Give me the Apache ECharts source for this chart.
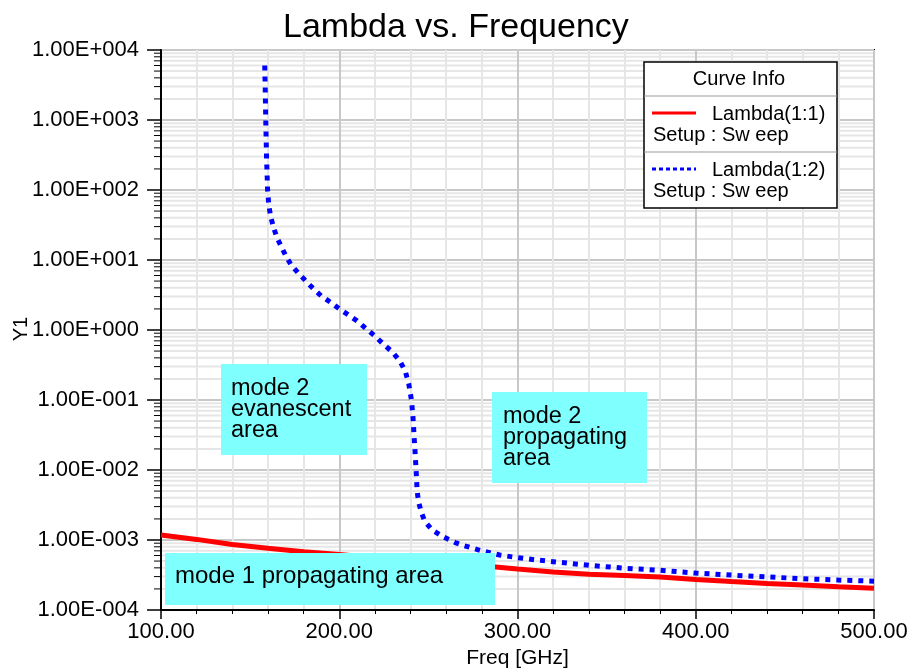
<!DOCTYPE html>
<html>
<head>
<meta charset="utf-8">
<script src="https://cdn.jsdelivr.net/npm/echarts@6/dist/echarts.min.js"></script>
<style>
  html, body { margin: 0; padding: 0; background: #fff; }
  #chart { width: 914px; height: 668px; }
</style>
</head>
<body>
<div id="chart"></div>
<script>
// Lambda(1:1) - mode 1
const freqRed = [100, 120, 140, 160, 180, 200, 220, 240, 260, 280, 300, 320, 340, 360, 380, 400, 420, 440, 460, 480, 500];
const lambdaRed = [1.18e-3, 1.02e-3, 8.6e-4, 7.6e-4, 6.8e-4, 6.2e-4, 5.6e-4, 5.1e-4, 4.7e-4, 4.3e-4, 3.85e-4,
  3.5e-4, 3.25e-4, 3.1e-4, 2.95e-4, 2.72e-4, 2.55e-4, 2.4e-4, 2.27e-4, 2.15e-4, 2.04e-4];

// Lambda(1:2) - mode 2
const freqBlue = [158.2, 158.5, 158.8, 159.2, 159.8, 160.5, 161.5, 163, 165, 167, 170, 173, 177, 181, 185, 190, 195,
  200, 205, 210, 215, 220, 225, 230, 234, 237, 239, 240.5, 241.3, 242, 242.6, 243.2, 243.7, 244.5, 246, 248, 252,
  258, 265, 270, 280, 290, 300, 310, 320, 340, 360, 380, 400, 420, 440, 460, 480, 500];
const lambdaBlue = [6000, 2500, 900, 300, 100, 60, 42, 30, 21, 16.5, 11.5, 8.5, 6.5, 5.1, 4.0, 3.05, 2.5,
  2.0, 1.65, 1.35, 1.05, 0.82, 0.62, 0.48, 0.36, 0.26, 0.17, 0.1, 0.06, 0.03, 0.017, 0.009, 0.005, 0.0035, 0.0025,
  0.00185, 0.0014, 0.00112, 9.2e-4, 8.3e-4, 7.0e-4, 6.1e-4, 5.6e-4, 5.2e-4, 4.9e-4, 4.35e-4, 3.95e-4, 3.7e-4,
  3.37e-4, 3.15e-4, 2.97e-4, 2.8e-4, 2.68e-4, 2.58e-4];

const seriesNames = ['Lambda(1:1)', 'Lambda(1:2)'];
const setupLabel = 'Setup : Sw eep';
const xTickLabels = ['100.00', '200.00', '300.00', '400.00', '500.00'];
const yTickLabels = ['1.00E-004', '1.00E-003', '1.00E-002', '1.00E-001', '1.00E+000',
  '1.00E+001', '1.00E+002', '1.00E+003', '1.00E+004'];
const yMinorTicks = [];
for (let e = -4; e < 4; e++) {
  for (let m = 2; m <= 9; m++) yMinorTicks.push(m * Math.pow(10, e));
}

const FONT = "'Liberation Sans', Arial, sans-serif";
const xMin = 100, xMax = 500;

const chart = echarts.init(document.getElementById('chart'));

function pair(xs, ys) { return xs.map((x, i) => [x, ys[i]]); }

function legendRow(y, name, lineStyle) {
  return [
    { type: 'line', z: 100, shape: { x1: 652, y1: y, x2: 696, y2: y }, style: lineStyle },
    { type: 'text', z: 100, style: { x: 712, y: y + 1, text: name, font: '20px ' + FONT, fill: '#000', verticalAlign: 'middle' } },
    { type: 'text', z: 100, style: { x: 653, y: y + 22, text: setupLabel, font: '20px ' + FONT, fill: '#000', verticalAlign: 'middle' } }
  ];
}

function noteBox(x, y, w, h, lines, tx, ty, size) {
  return [
    { type: 'rect', z: 100, shape: { x: x, y: y, width: w, height: h }, style: { fill: '#80ffff' } },
    { type: 'text', z: 101, style: { x: tx, y: ty, text: lines.join('\n'), font: size + 'px ' + FONT, lineHeight: 21, fill: '#000' } }
  ];
}

chart.setOption({
  animation: false,
  backgroundColor: '#fff',
  title: {
    text: 'Lambda vs. Frequency',
    left: 278, top: 6,
    textStyle: { fontFamily: FONT, fontSize: 34, fontWeight: 'normal', color: '#000' }
  },
  grid: {
    left: 161, top: 50, width: 713, height: 560,
    outerBoundsMode: 'none', containLabel: false,
    show: true, borderColor: '#000', borderWidth: 2, backgroundColor: 'transparent'
  },
  xAxis: {
    type: 'value', min: xMin, max: xMax, interval: 100,
    name: 'Freq [GHz]', nameLocation: 'middle', nameGap: 36,
    nameTextStyle: { fontFamily: FONT, fontSize: 21, color: '#000' },
    axisLine: { lineStyle: { color: '#000', width: 2 } },
    axisTick: { show: true, length: 9, lineStyle: { color: '#000', width: 1.5 } },
    minorTick: { show: true, splitNumber: 5, length: 4, lineStyle: { color: '#000', width: 1 } },
    axisLabel: {
      margin: 11, fontFamily: FONT, fontSize: 22, color: '#000',
      formatter: v => xTickLabels[Math.round((v - xMin) / 100)]
    },
    splitLine: { show: true, lineStyle: { color: '#c8c8c8', width: 2 } },
    minorSplitLine: { show: true, lineStyle: { color: '#e6e6e6', width: 2 } }
  },
  yAxis: {
    type: 'log', logBase: 10, min: 1e-4, max: 1e4, interval: 1,
    axisLine: { lineStyle: { color: '#000', width: 2 } },
    axisTick: { show: true, length: 14, lineStyle: { color: '#000', width: 1.5 } },
    axisLabel: {
      margin: 22, fontFamily: FONT, fontSize: 22, color: '#000',
      formatter: v => yTickLabels[Math.round(Math.log10(v)) + 4]
    },
    splitLine: { show: true, lineStyle: { color: '#c8c8c8', width: 2 } }
  },
  series: [
    {
      type: 'custom', silent: true, z: -1,
      data: yMinorTicks.map(v => [xMin, v]),
      renderItem: function (params, api) {
        const a = api.coord([xMin, api.value(1)]);
        const b = api.coord([xMax, api.value(1)]);
        return {
          type: 'group',
          children: [
            { type: 'line', shape: { x1: a[0], y1: a[1], x2: b[0], y2: b[1] }, style: { stroke: '#e6e6e6', lineWidth: 2 } },
            { type: 'line', shape: { x1: a[0] - 7, y1: a[1], x2: a[0], y2: a[1] }, style: { stroke: '#000', lineWidth: 1 } }
          ]
        };
      }
    },
    {
      name: seriesNames[0], type: 'line', showSymbol: false, z: 3,
      data: pair(freqRed, lambdaRed),
      lineStyle: { color: '#ff0000', width: 5 }
    },
    {
      name: seriesNames[1], type: 'line', showSymbol: false, z: 4,
      data: pair(freqBlue, lambdaBlue),
      lineStyle: { color: '#0000ff', width: 5, type: [5, 6], cap: 'butt' }
    }
  ],
  graphic: [
    { type: 'text', z: 100, x: 21, y: 329, rotation: Math.PI / 2,
      style: { text: 'Y1', font: '20px ' + FONT, fill: '#000', align: 'center', verticalAlign: 'middle' } },
    ...noteBox(221, 364, 146, 91, ['mode 2', 'evanescent', 'area'], 231, 378, 23.5),
    ...noteBox(492, 392, 155, 91, ['mode 2', 'propagating', 'area'], 503, 406, 23.5),
    ...noteBox(165, 553, 330, 52, ['mode 1 propagating area'], 175, 566, 24),
    { type: 'rect', z: 100, shape: { x: 644, y: 62, width: 193, height: 146 }, style: { fill: '#fff', stroke: '#000', lineWidth: 1.5 } },
    { type: 'line', z: 100, shape: { x1: 644, y1: 96, x2: 837, y2: 96 }, style: { stroke: '#999', lineWidth: 1 } },
    { type: 'line', z: 100, shape: { x1: 644, y1: 152, x2: 837, y2: 152 }, style: { stroke: '#999', lineWidth: 1 } },
    { type: 'text', z: 100, style: { x: 739, y: 79, text: 'Curve Info', font: '20px ' + FONT, fill: '#000', align: 'center', verticalAlign: 'middle' } },
    ...legendRow(113, seriesNames[0], { stroke: '#ff0000', lineWidth: 3 }),
    ...legendRow(169, seriesNames[1], { stroke: '#0000ff', lineWidth: 3, lineDash: [4, 3] })
  ]
});
</script>
</body>
</html>
